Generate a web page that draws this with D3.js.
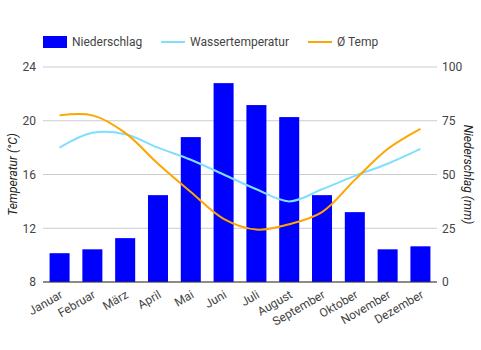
<!DOCTYPE html>
<html>
<head>
<meta charset="utf-8">
<script src="https://cdn.jsdelivr.net/npm/d3@7"></script>
<style>
  body { margin: 0; background: #fff; }
  text { font-family: Roboto, "Open Sans", sans-serif; }
</style>
</head>
<body>
<div id="chart"></div>
<script>
var months = ["Januar", "Februar", "März", "April", "Mai", "Juni", "Juli", "August", "September", "Oktober", "November", "Dezember"];
var niederschlag = [13.4, 15.2, 20.4, 40.4, 67.4, 92.5, 82.3, 76.7, 40.4, 32.5, 15.2, 16.6];
var wassertemp = [18.0, 19.1, 19.0, 18.0, 17.1, 16.0, 14.9, 14.0, 14.9, 15.9, 16.8, 17.9];
var temp = [20.4, 20.4, 19.1, 16.8, 14.7, 12.7, 11.9, 12.3, 13.2, 15.6, 17.9, 19.4];
var tempTicks = [8, 12, 16, 20, 24];
var rainTicks = [0, 25, 50, 75, 100];

var width = 481, height = 350;
var margin = { top: 67, right: 44, bottom: 68, left: 43 };
var innerW = width - margin.left - margin.right,
    innerH = height - margin.top - margin.bottom;

var svg = d3.select("#chart")
    .append("svg")
    .attr("width", width)
    .attr("height", height);

var g = svg.append("g")
    .attr("transform", "translate(" + margin.left + "," + margin.top + ")");

var x = d3.scaleBand()
    .domain(months)
    .range([0, innerW])
    .paddingInner(0.39)
    .paddingOuter(0.2);

var yTemp = d3.scaleLinear().domain([8, 24]).range([innerH, 0]);
var yRain = d3.scaleLinear().domain([0, 100]).range([innerH, 0]);

// gridlines
g.append("g")
    .selectAll("line")
    .data(tempTicks)
    .enter()
    .append("line")
    .attr("x1", 0)
    .attr("x2", innerW)
    .attr("y1", function (d) { return yTemp(d); })
    .attr("y2", function (d) { return yTemp(d); })
    .attr("stroke", "#cccccc")
    .attr("stroke-width", 1);

// left axis
var yAxisLeft = d3.axisLeft(yTemp).tickValues(tempTicks).tickSize(0).tickPadding(7);
var gl = g.append("g").call(yAxisLeft);
gl.select(".domain").remove();
gl.selectAll("text").attr("font-size", "12px").attr("fill", "#444444");

// right axis
var yAxisRight = d3.axisRight(yRain).tickValues(rainTicks).tickSize(0).tickPadding(5);
var gr = g.append("g").attr("transform", "translate(" + innerW + ",0)").call(yAxisRight);
gr.select(".domain").remove();
gr.selectAll("text").attr("font-size", "12px").attr("fill", "#444444");

// bars
g.selectAll(".bar")
    .data(niederschlag)
    .enter()
    .append("rect")
    .attr("class", "bar")
    .attr("x", function (d, i) { return x(months[i]); })
    .attr("width", x.bandwidth())
    .attr("y", function (d) { return yRain(d); })
    .attr("height", function (d) { return innerH - yRain(d); })
    .attr("fill", "#0000ff");

// baseline
g.append("line")
    .attr("x1", 0).attr("x2", innerW)
    .attr("y1", innerH).attr("y2", innerH)
    .attr("stroke", "#333333")
    .attr("stroke-width", 1);

var cx = function (i) { return x(months[i]) + x.bandwidth() / 2; };

var lineTemp = d3.line()
    .x(function (d, i) { return cx(i); })
    .y(function (d) { return yTemp(d); })
    .curve(d3.curveCatmullRom.alpha(0.5));

g.append("path")
    .datum(wassertemp)
    .attr("d", lineTemp)
    .attr("fill", "none")
    .attr("stroke", "#80deff")
    .attr("stroke-width", 2);

g.append("path")
    .datum(temp)
    .attr("d", lineTemp)
    .attr("fill", "none")
    .attr("stroke", "#ffa500")
    .attr("stroke-width", 2);

// x labels
var xAxis = d3.axisBottom(x).tickSize(0).tickPadding(0);
var gx = g.append("g").attr("transform", "translate(0," + innerH + ")").call(xAxis);
gx.select(".domain").remove();
gx.selectAll("text")
    .attr("font-size", "12px")
    .attr("fill", "#444444")
    .attr("text-anchor", "end")
    .attr("dy", null)
    .attr("y", 0)
    .attr("transform", "translate(4,15) rotate(-30)");

// axis titles
svg.append("text")
    .attr("transform", "translate(17," + (margin.top + innerH / 2) + ") rotate(-90)")
    .attr("text-anchor", "middle")
    .attr("font-size", "12px")
    .attr("font-style", "italic")
    .attr("fill", "#222222")
    .text("Temperatur (°C)");

svg.append("text")
    .attr("transform", "translate(464," + (margin.top + innerH / 2) + ") rotate(90)")
    .attr("text-anchor", "middle")
    .attr("font-size", "12px")
    .attr("font-style", "italic")
    .attr("fill", "#222222")
    .text("Niederschlag (mm)");

// legend
var legend = svg.append("g");
legend.append("rect")
    .attr("x", 43).attr("y", 36)
    .attr("width", 24).attr("height", 12)
    .attr("fill", "#0000ff");
legend.append("text")
    .attr("x", 72).attr("y", 46)
    .attr("font-size", "12px").attr("fill", "#444444")
    .text("Niederschlag");
legend.append("line")
    .attr("x1", 161).attr("x2", 185).attr("y1", 42).attr("y2", 42)
    .attr("stroke", "#80deff").attr("stroke-width", 2);
legend.append("text")
    .attr("x", 190).attr("y", 46)
    .attr("font-size", "12px").attr("fill", "#444444")
    .text("Wassertemperatur");
legend.append("line")
    .attr("x1", 308).attr("x2", 332).attr("y1", 42).attr("y2", 42)
    .attr("stroke", "#ffa500").attr("stroke-width", 2);
legend.append("text")
    .attr("x", 337).attr("y", 46)
    .attr("font-size", "12px").attr("fill", "#444444")
    .text("Ø Temp");
</script>
</body>
</html>
